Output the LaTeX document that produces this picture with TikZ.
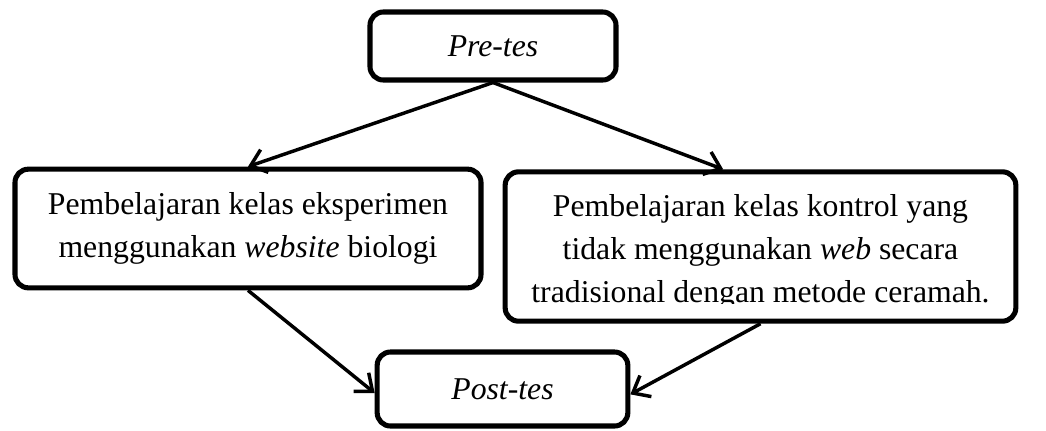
\documentclass[tikz,border=0pt]{standalone}
\usepackage{fontspec}
\setmainfont{Liberation Serif}
\usetikzlibrary{positioning,arrows.meta}

\tikzset{
  tahap/.style={draw=black, line width=3.8pt, rounded corners=10pt, fill=white,
                align=center, inner sep=0pt},
  panah/.style={-{Straight Barb[length=11pt, width=18pt, line width=2.6pt]}, line width=2.6pt}
}

\begin{document}
\begin{tikzpicture}[x=0.75pt, y=-0.75pt,
    every node/.style={font=\fontsize{23.8}{32.25}\selectfont}]
    \useasboundingbox (0,0) rectangle (1046,430);
    \node[tahap, minimum width=184.5pt, minimum height=51pt] (pre) at (493,46) {\textit{Pre-tes}};
    \node[tahap, minimum width=349.5pt, minimum height=89pt] (eks) at (248,228.5)
         {Pembelajaran kelas eksperimen\\menggunakan \textit{website} biologi};
    \node[tahap, minimum width=383pt, minimum height=112pt, text height=88.5pt] (kon) at (760.5,246.5)
         {Pembelajaran kelas kontrol yang\\tidak menggunakan \textit{web} secara\\tradisional dengan metode ceramah.};
    \fill[white] (530,304) rectangle (995,316);
    \node[tahap, minimum width=188pt, minimum height=55.5pt] (post) at (502.5,389) {\textit{Post-tes}};
    \draw[panah] (pre.south) -- (eks.north);
    \draw[panah] (pre.south) -- ([xshift=-28pt]kon.north);
    \draw[panah] (eks.south) -- ([yshift=-3pt]post.west);
    \draw[panah] (kon.south) -- ([yshift=-4pt]post.east);
\end{tikzpicture}
\end{document}
